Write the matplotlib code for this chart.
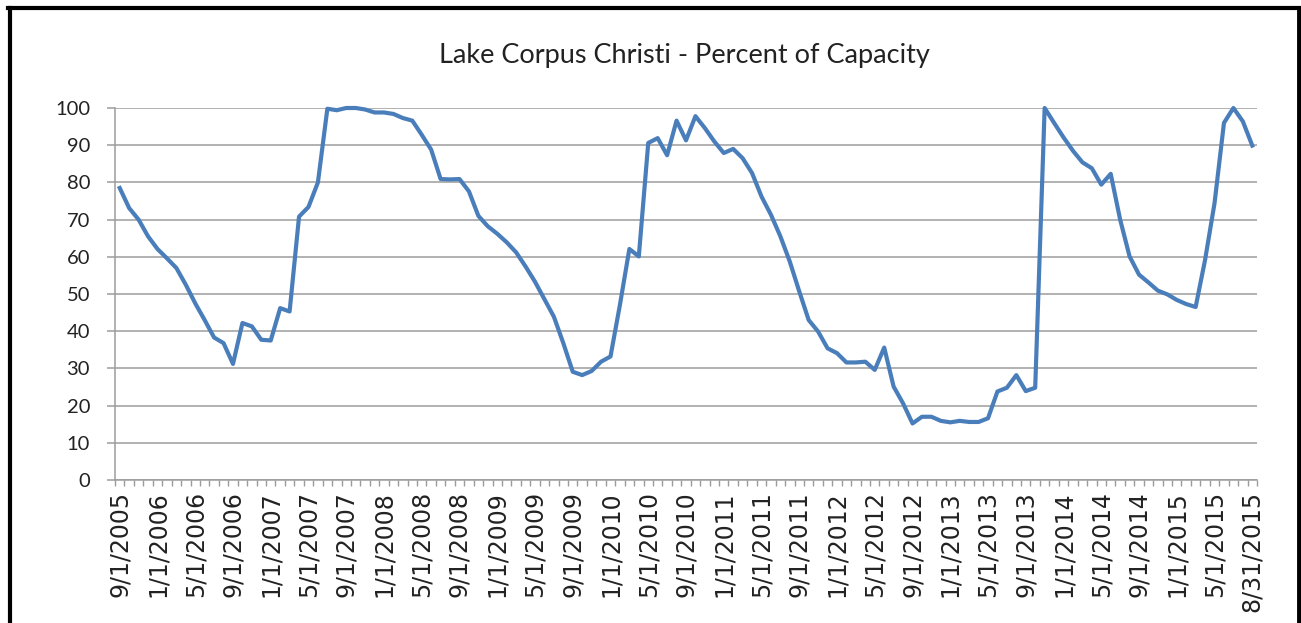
import matplotlib.pyplot as plt
import numpy as np
from matplotlib.lines import Line2D

# monthly percent of capacity, 9/2005 .. 8/2015
pct = [78.5, 73.1, 70.0, 65.5, 62.1, 59.6, 57.0, 52.5, 47.5, 43.0,
       38.3, 36.8, 31.2, 42.2, 41.3, 37.7, 37.5, 46.2, 45.3, 70.8,
       73.4, 80.0, 99.8, 99.4, 100.0, 100.0, 99.6, 98.8, 98.8, 98.4,
       97.3, 96.6, 92.8, 88.8, 80.9, 80.8, 80.9, 77.6, 71.0, 68.2,
       66.2, 63.9, 61.2, 57.4, 53.3, 48.6, 43.9, 36.8, 29.1, 28.2,
       29.3, 31.8, 33.2, 47.1, 62.1, 60.1, 90.6, 91.9, 87.3, 96.6,
       91.3, 97.8, 94.6, 91.0, 87.9, 89.0, 86.5, 82.5, 76.2, 71.3,
       65.5, 58.7, 50.7, 43.0, 39.9, 35.4, 34.1, 31.6, 31.6, 31.8,
       29.6, 35.6, 25.1, 20.6, 15.2, 17.0, 17.0, 15.9, 15.5, 15.9,
       15.6, 15.6, 16.6, 23.8, 24.8, 28.2, 23.9, 24.8, 100.0, 96.0,
       92.1, 88.5, 85.4, 83.8, 79.4, 82.3, 70.0, 60.1, 55.2, 53.1,
       50.9, 49.9, 48.4, 47.3, 46.5, 59.2, 74.4, 96.0, 100.0, 96.4,
       89.9]

date_labels = ['9/1/2005', '1/1/2006', '5/1/2006', '9/1/2006', '1/1/2007',
               '5/1/2007', '9/1/2007', '1/1/2008', '5/1/2008', '9/1/2008',
               '1/1/2009', '5/1/2009', '9/1/2009', '1/1/2010', '5/1/2010',
               '9/1/2010', '1/1/2011', '5/1/2011', '9/1/2011', '1/1/2012',
               '5/1/2012', '9/1/2012', '1/1/2013', '5/1/2013', '9/1/2013',
               '1/1/2014', '5/1/2014', '9/1/2014', '1/1/2015', '5/1/2015',
               '8/31/2015']
label_idx = list(range(0, 117, 4)) + [120]

grey = '#9c9c9c'

fig = plt.figure(figsize=(13.01, 6.23), dpi=100)
ax = fig.add_axes([115 / 1301, 1 - 480 / 623, 1142 / 1301, 372 / 623])

x = np.arange(len(pct))
ax.plot(x, pct, color='#4a7ebb', lw=3.0, clip_on=False, solid_joinstyle='round', zorder=3)

ax.set_xlim(-0.5, len(pct) - 0.5)
ax.set_ylim(0, 100)
ax.set_yticks(range(0, 101, 10))
ax.yaxis.grid(True, color=grey, lw=1.1)
ax.set_axisbelow(True)

for s in ['top', 'right']:
    ax.spines[s].set_visible(False)
for s in ['left', 'bottom']:
    ax.spines[s].set_color(grey)
    ax.spines[s].set_linewidth(1.1)

ax.tick_params(axis='y', direction='out', length=6, width=1.1, color=grey,
               pad=12, labelsize=14.5, labelcolor='#222222')
for t in ax.get_yticklabels():
    t.set_fontfamily('Lato')

ax.set_xticks(label_idx)
ax.set_xticklabels(date_labels, rotation=90, fontsize=17, family='DejaVu Sans', color='#222222')
ax.set_xticks(np.arange(-0.5, len(pct), 1), minor=True)
ax.tick_params(axis='x', which='major', length=0, pad=8)
ax.tick_params(axis='x', which='minor', direction='out', length=4, width=1.0, color=grey)

fig.text(684 / 1301, 1 - 55 / 623, 'Lake Corpus Christi - Percent of Capacity',
         ha='center', va='center', fontsize=19.5, family='Lato', color='#222222')

# outer frame
W, H = 1301, 623
fig.add_artist(Line2D([10 / W, 10 / W], [0, 1 - 8 / H], color='black', lw=3, transform=fig.transFigure))
fig.add_artist(Line2D([8 / W, 1], [1 - 8 / H, 1 - 8 / H], color='black', lw=3, transform=fig.transFigure))
fig.add_artist(Line2D([1298.5 / W, 1298.5 / W], [0, 1 - 8 / H], color='black', lw=3.5, transform=fig.transFigure))

fig.savefig('out.png', dpi=100)
